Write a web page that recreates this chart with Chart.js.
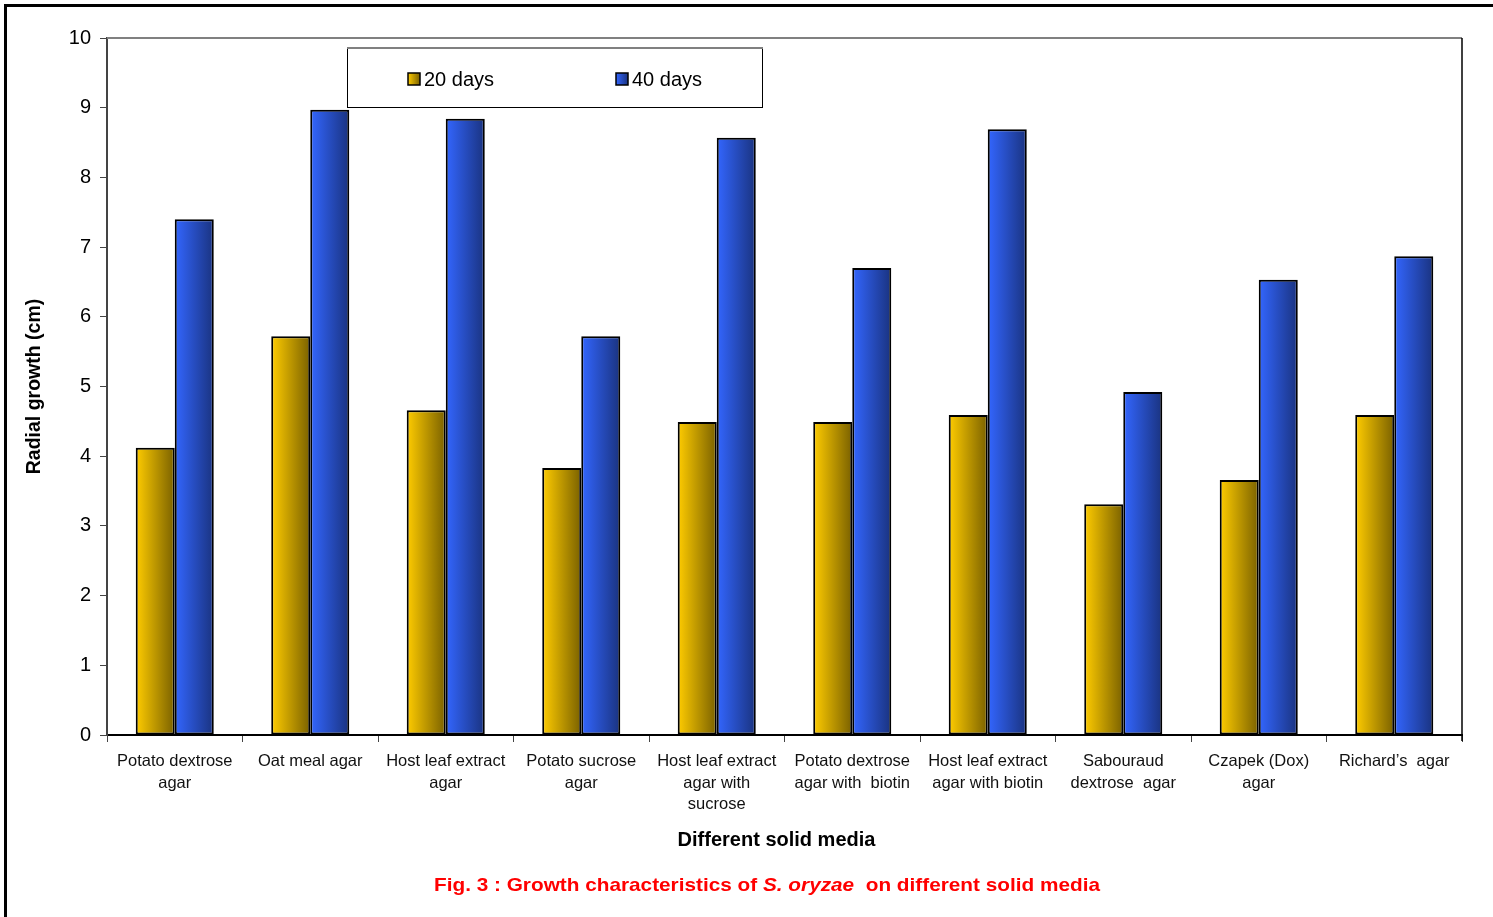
<!DOCTYPE html>
<html><head><meta charset="utf-8">
<script src="https://cdn.jsdelivr.net/npm/chart.js@4.4.0/dist/chart.umd.min.js"></script>
<style>html,body{margin:0;padding:0;background:#fff;overflow:hidden}#wrap{position:relative;width:1493px;height:917px}</style>
</head><body><div id="wrap"><canvas id="c" width="1493" height="917"></canvas></div>
<script>
// ---- data ----
const categories = [
  ["Potato dextrose", "agar"],
  ["Oat meal agar"],
  ["Host leaf extract", "agar"],
  ["Potato sucrose", "agar"],
  ["Host leaf extract", "agar with", "sucrose"],
  ["Potato dextrose", "agar with  biotin"],
  ["Host leaf extract", "agar with biotin"],
  ["Sabouraud", "dextrose  agar"],
  ["Czapek (Dox)", "agar"],
  ["Richard\u2019s  agar"]
];
const seriesNames = ["20 days", "40 days"];
const days20 = [4.12, 5.72, 4.66, 3.83, 4.49, 4.49, 4.59, 3.31, 3.66, 4.59];
const days40 = [7.40, 8.97, 8.84, 5.72, 8.57, 6.70, 8.69, 4.92, 6.53, 6.87];
const yMin = 0, yMax = 10, yStep = 1;
const yTitle = "Radial growth (cm)";
const xTitle = "Different solid media";
const captionParts = [
  ["Fig. 3 : Growth characteristics of ", "normal"],
  ["S. oryzae", "italic"],
  ["  on different solid media", "normal"]
];

// ---- styling ----
const FONT = '"Liberation Sans", Arial, sans-serif';
const CAT_PCT = 0.576;
const gradStops = [
  ["#ffcc00", "#7a6100"],
  ["#3366ff", "#1a3380"]
];

function barFill(ctx, ds) {
  const chart = ctx.chart;
  const xs = chart.scales && chart.scales.x;
  if (!xs || ctx.type !== 'data' || !isFinite(xs.width)) return gradStops[ds][0];
  const catW = xs.width / categories.length;
  const w = catW * CAT_PCT / 2;
  const c = xs.getPixelForValue(ctx.dataIndex);
  const x0 = ds === 0 ? c - w : c;
  const g = chart.ctx.createLinearGradient(x0, 0, x0 + w, 0);
  g.addColorStop(0, gradStops[ds][0]);
  g.addColorStop(1, gradStops[ds][1]);
  return g;
}

const decor = {
  id: 'decor',
  beforeDraw(chart) {
    const c = chart.ctx;
    c.save();
    c.fillStyle = '#fff';
    c.fillRect(0, 0, chart.width, chart.height);
    c.fillStyle = '#000';
    c.fillRect(4, 4, chart.width - 4, 3);
    c.fillRect(4, 4, 3, chart.height - 4);
    c.restore();
  },
  afterDraw(chart) {
    const c = chart.ctx;
    const ca = chart.chartArea;
    c.save();
    // plot frame top (gray) and right (black)
    c.strokeStyle = '#808080';
    c.lineWidth = 2;
    c.beginPath(); c.moveTo(ca.left, ca.top); c.lineTo(ca.right, ca.top); c.stroke();
    c.strokeStyle = '#000';
    c.lineWidth = 1.5;
    c.beginPath(); c.moveTo(ca.right, ca.top); c.lineTo(ca.right, ca.bottom + 6); c.stroke();

    // legend
    const lx = ca.left + 240, ly = ca.top + 10, lw = 415, lh = 59;
    c.fillStyle = '#fff';
    c.fillRect(lx, ly, lw, lh);
    c.strokeStyle = '#000'; c.lineWidth = 1;
    c.strokeRect(lx + 0.5, ly + 0.5, lw, lh);
    c.strokeStyle = '#808080'; c.lineWidth = 2;
    c.beginPath(); c.moveTo(lx, ly); c.lineTo(lx + lw + 1, ly); c.stroke();
    const items = chart.data.datasets.map((d, i) => ({ label: d.label, i }));
    const offs = [61, 269];
    items.forEach((it, k) => {
      const sx = lx + offs[k], sy = ly + 25;
      const g = c.createLinearGradient(sx, 0, sx + 12, 0);
      g.addColorStop(0, gradStops[it.i][0]);
      g.addColorStop(1, gradStops[it.i][1]);
      c.fillStyle = g;
      c.fillRect(sx, sy, 12, 12);
      c.strokeStyle = '#000'; c.lineWidth = 1.5;
      c.strokeRect(sx, sy, 12, 12);
      c.fillStyle = '#000';
      c.font = '20px ' + FONT;
      c.textBaseline = 'middle';
      c.textAlign = 'left';
      c.fillText(it.label, sx + 16, sy + 7);
    });

    // y title
    c.save();
    c.translate(35, (ca.top + ca.bottom) / 2);
    c.rotate(-Math.PI / 2);
    c.font = 'bold 19.5px ' + FONT;
    c.fillStyle = '#000';
    c.textAlign = 'center';
    c.textBaseline = 'middle';
    c.fillText(yTitle, 0, 0);
    c.restore();

    // x title
    c.font = 'bold 20px ' + FONT;
    c.fillStyle = '#000';
    c.textAlign = 'center';
    c.textBaseline = 'middle';
    c.fillText(xTitle, (ca.left + ca.right) / 2 - 8, ca.bottom + 105);

    // caption
    const capFam = '"Liberation Sans Narrow", "Liberation Sans", Arial, sans-serif';
    const fs = 19;
    let total = 0;
    const widths = captionParts.map(([t, st]) => {
      c.font = (st === 'italic' ? 'italic ' : '') + 'bold ' + fs + 'px ' + capFam;
      const w = c.measureText(t).width; total += w; return w;
    });
    const target = 666;
    const sc = target / total;
    c.save();
    c.translate(767 - target / 2, ca.bottom + 151);
    c.scale(sc, 1);
    c.fillStyle = '#ff0000';
    c.textAlign = 'left';
    c.textBaseline = 'middle';
    let x = 0;
    captionParts.forEach(([t, st], i) => {
      c.font = (st === 'italic' ? 'italic ' : '') + 'bold ' + fs + 'px ' + capFam;
      c.fillText(t, x, 0);
      x += widths[i];
    });
    c.restore();
    c.restore();
  }
};

new Chart(document.getElementById('c'), {
  type: 'bar',
  data: {
    labels: categories,
    datasets: [
      { label: seriesNames[0], data: days20, backgroundColor: (ctx) => barFill(ctx, 0),
        borderColor: '#000', borderWidth: 2, borderSkipped: false },
      { label: seriesNames[1], data: days40, backgroundColor: (ctx) => barFill(ctx, 1),
        borderColor: '#000', borderWidth: 2, borderSkipped: false }
    ]
  },
  options: {
    responsive: false,
    animation: false,
    devicePixelRatio: 1,
    categoryPercentage: CAT_PCT,
    barPercentage: 1,
    layout: { padding: { left: 10, right: 31, top: 38, bottom: 82 } },
    plugins: { legend: { display: false }, tooltip: { enabled: false }, title: { display: false } },
    scales: {
      x: {
        grid: { offset: true, drawOnChartArea: false, drawTicks: true, tickLength: 7, color: '#444', lineWidth: 1 },
        border: { color: '#000', width: 2 },
        ticks: { font: { family: FONT, size: 16.5, lineHeight: 1.3 }, color: '#111', maxRotation: 0, minRotation: 0, autoSkip: false, padding: 9 },
        afterFit(s) { s.height = 100; }
      },
      y: {
        min: yMin, max: yMax,
        grid: { drawOnChartArea: false, drawTicks: true, tickLength: 7, color: '#444' },
        border: { color: '#444', width: 2 },
        ticks: { stepSize: yStep, font: { family: FONT, size: 20 }, color: '#000', padding: 9 },
        afterFit(s) { s.width = 97; }
      }
    }
  },
  plugins: [decor]
});
</script>
</body></html>
